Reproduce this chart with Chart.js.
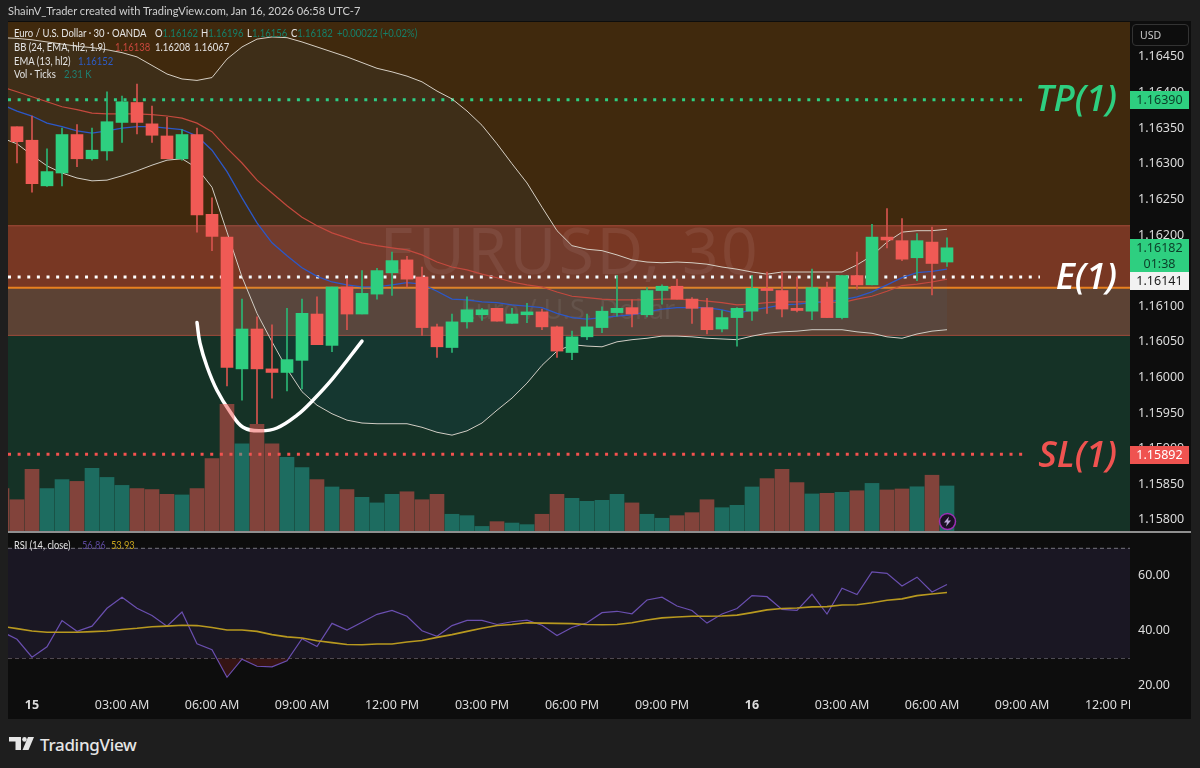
<!DOCTYPE html>
<html>
<head>
<meta charset="utf-8">
<title>EURUSD 30</title>
<script src="https://cdn.jsdelivr.net/npm/chart.js@4"></script>
<style>
    html, body { margin: 0; padding: 0; background: #1e1e1e; }
    body { position: relative; width: 1200px; height: 768px; overflow: hidden; font-family: "Noto Sans", sans-serif; color: #d8d8d8; }
    canvas { position: absolute; left: 0; }
    .abs { position: absolute; white-space: nowrap; }
    #frame { left: 8px; top: 21px; width: 1183px; height: 698px; background: #0d0d0d; }
    #sep { left: 8px; top: 531px; width: 1183px; height: 1.5px; background: #8f8f8f; }
    #header { left: 8px; top: 4px; font-family: Lato, sans-serif; font-size: 11.1px; color: #cfcfcf; }
    .legend { font-family: Lato, sans-serif; font-size: 10.8px; color: #e4e4e4; line-height: 14px; transform: scaleX(0.88); transform-origin: left center; }
    .teal { color: #15806a; }
    .tag { left: 1130px; width: 59px; text-align: center; font-size: 12.5px; }
    .big { font-family: "Open Sans", sans-serif; font-style: italic; font-weight: 600; font-size: 36px; line-height: 40px; right: 83px; }
    #usd { left: 1132px; top: 24px; width: 48px; height: 20px; padding-left: 7px; border: 1px solid #333; border-radius: 4px; font-size: 10.5px; line-height: 20px; color: #c8c8c8; }
    #clip { left: 1130px; top: 695px; width: 61px; height: 24px; background: #0d0d0d; }
    #brand { left: 40px; top: 733px; font-size: 17px; font-weight: 500; color: #e6e6e6; letter-spacing: -0.3px; }
</style>
</head>
<body>
<div class="abs" id="frame"></div>
<canvas id="priceChart" width="1200" height="560" style="top:0"></canvas>
<canvas id="rsiChart" width="1200" height="210" style="top:513px"></canvas>
<div class="abs" id="sep"></div>
<div class="abs" id="clip"></div>

<div class="abs" id="header">ShainV_Trader created with TradingView.com, Jan 16, 2026 06:58 UTC-7</div>

<div class="abs legend" style="left:14px;top:26px">Euro / U.S. Dollar · 30 · OANDA</div>
<div class="abs legend" style="left:155px;top:26px">O<span class="teal">1.16162</span></div>
<div class="abs legend" style="left:201px;top:26px">H<span class="teal">1.16196</span></div>
<div class="abs legend" style="left:247px;top:26px">L<span class="teal">1.16156</span></div>
<div class="abs legend" style="left:291px;top:26px">C<span class="teal">1.16182</span></div>
<div class="abs legend teal" style="left:337px;top:26px">+0.00022 (+0.02%)</div>
<div class="abs legend" style="left:14px;top:40px">BB (24, EMA, hl2, 1.9)</div>
<div class="abs legend" style="left:115px;top:40px;color:#c8473d">1.16138</div>
<div class="abs legend" style="left:155px;top:40px">1.16208</div>
<div class="abs legend" style="left:194px;top:40px">1.16067</div>
<div class="abs legend" style="left:14px;top:53.5px">EMA (13, hl2)</div>
<div class="abs legend" style="left:78px;top:53.5px;color:#2c5cc8">1.16152</div>
<div class="abs legend" style="left:14px;top:67px">Vol · Ticks</div>
<div class="abs legend" style="left:64px;top:67px;color:#1f7f72">2.31 K</div>
<div class="abs legend" style="left:14px;top:538px;font-size:10.5px">RSI (14, close)</div>
<div class="abs legend" style="left:82px;top:538px;font-size:10.5px;color:#5a479a">56.86</div>
<div class="abs legend" style="left:111px;top:538px;font-size:10.5px;color:#c4a21e">53.93</div>

<div class="abs" id="usd">USD</div>
<div class="abs tag" style="top:91px;height:18px;line-height:18px;background:#2ecf80;color:#0c3d28">1.16390</div>
<div class="abs tag" style="top:239px;height:33px;background:#2ecf80;color:#0c3d28;line-height:16px;padding-top:1px;height:32px">1.16182<br>01:38</div>
<div class="abs tag" style="top:272px;height:18px;line-height:18px;background:#f2f2f2;color:#1a1a1a">1.16141</div>
<div class="abs tag" style="top:446px;height:18px;line-height:18px;background:#ef5350;color:#ffffff">1.15892</div>

<div class="abs big" style="top:78px;color:#2ecf80">TP(1)</div>
<div class="abs big" style="top:256px;color:#ffffff">E(1)</div>
<div class="abs big" style="top:434px;color:#ef5350">SL(1)</div>

<svg class="abs" style="left:938px;top:512px" width="19" height="19" viewBox="0 0 19 19">
    <circle cx="9.5" cy="9.5" r="8" fill="#1a1024" stroke="#9c2fb5" stroke-width="1.5"/>
    <polygon points="11,4.5 6,10.5 9,10.5 8,14.5 13,8.5 10,8.5" fill="#b9a6d6"/>
</svg>

<svg class="abs" style="left:9px;top:737px" width="26" height="14" viewBox="0 0 26 14">
    <polygon points="0,0 12,0 12,13 6.5,13 6.5,4.5 0,4.5" fill="#e6e6e6"/>
    <circle cx="15.5" cy="2.4" r="2.3" fill="#e6e6e6"/>
    <polygon points="19,0 25,0 19.5,13 13.5,13" fill="#e6e6e6"/>
</svg>
<div class="abs" id="brand">TradingView</div>

<script>
// ============ DATA ============

const timeLabels = ["15", "03:00 AM", "06:00 AM", "09:00 AM", "12:00 PM", "03:00 PM", "06:00 PM", "09:00 PM",
    "16", "03:00 AM", "06:00 AM", "09:00 AM", "12:00 PM"];
const BARS_PER_LABEL = 6;
const BARS_PER_DAY = 48;
const CANDLE_START = -1; // bar number of first candle, bar 0 is Jan 15 00:00
const LINE_START = -2;   // indicators start one bar further left

const opens = [1.16352, 1.16333, 1.16269, 1.16287, 1.16341, 1.16307, 1.16318, 1.16358, 1.16386, 1.16356, 1.16339, 1.16307, 1.16341,
    1.16229, 1.16197, 1.16012, 1.16068, 1.16012, 1.16007, 1.16024, 1.16089, 1.16045, 1.16127, 1.16089, 1.16117, 1.16147, 1.16165,
    1.16141, 1.16071, 1.16042, 1.16078, 1.16088, 1.16097, 1.16076, 1.16088, 1.16092, 1.16071, 1.16035, 1.16057, 1.16070, 1.16091,
    1.16098, 1.16088, 1.16122, 1.16128, 1.16110, 1.16098, 1.16068, 1.16084, 1.16093, 1.16125, 1.16122, 1.16097, 1.16093, 1.16126,
    1.16084, 1.16143, 1.16130, 1.16197, 1.16192, 1.16168, 1.16190, 1.16162];
const highs = [1.16352, 1.16367, 1.16321, 1.16350, 1.16355, 1.16350, 1.16401, 1.16395, 1.16412, 1.16381, 1.16365, 1.16348, 1.16350,
    1.16252, 1.16197, 1.16110, 1.16085, 1.16074, 1.16097, 1.16110, 1.16113, 1.16127, 1.16138, 1.16150, 1.16153, 1.16176, 1.16170,
    1.16155, 1.16075, 1.16089, 1.16113, 1.16097, 1.16097, 1.16097, 1.16104, 1.16096, 1.16072, 1.16065, 1.16089, 1.16099, 1.16143,
    1.16109, 1.16126, 1.16130, 1.16138, 1.16112, 1.16111, 1.16094, 1.16098, 1.16143, 1.16148, 1.16148, 1.16141, 1.16152, 1.16134,
    1.16143, 1.16176, 1.16215, 1.16237, 1.16223, 1.16202, 1.16211, 1.16196];
const lows = [1.16301, 1.16260, 1.16268, 1.16269, 1.16296, 1.16305, 1.16305, 1.16330, 1.16342, 1.16330, 1.16307, 1.16305, 1.16204,
    1.16178, 1.15988, 1.15968, 1.15935, 1.15971, 1.15981, 1.15984, 1.16046, 1.16036, 1.16067, 1.16089, 1.16110, 1.16115, 1.16127,
    1.16059, 1.16028, 1.16035, 1.16069, 1.16080, 1.16079, 1.16076, 1.16077, 1.16067, 1.16028, 1.16025, 1.16053, 1.16063, 1.16086,
    1.16071, 1.16085, 1.16103, 1.16110, 1.16076, 1.16061, 1.16064, 1.16044, 1.16080, 1.16090, 1.16085, 1.16092, 1.16081, 1.16084,
    1.16082, 1.16124, 1.16130, 1.16182, 1.16164, 1.16136, 1.16116, 1.16156];
const closes = [1.16331, 1.16272, 1.16289, 1.16341, 1.16307, 1.16319, 1.16359, 1.16387, 1.16358, 1.16340, 1.16307, 1.16341, 1.16228,
    1.16198, 1.16014, 1.16068, 1.16012, 1.16007, 1.16025, 1.16090, 1.16046, 1.16127, 1.16089, 1.16118, 1.16150, 1.16164, 1.16138,
    1.16070, 1.16043, 1.16078, 1.16095, 1.16095, 1.16079, 1.16089, 1.16092, 1.16071, 1.16037, 1.16057, 1.16071, 1.16093, 1.16097,
    1.16089, 1.16122, 1.16128, 1.16110, 1.16097, 1.16067, 1.16084, 1.16097, 1.16125, 1.16122, 1.16096, 1.16094, 1.16126, 1.16084,
    1.16143, 1.16130, 1.16197, 1.16193, 1.16166, 1.16192, 1.16160, 1.16182];

// volume in thousands of ticks, from bar -2
const volumes = [2.18, 1.62, 3.15, 2.18, 2.63, 2.54, 3.20, 2.74, 2.34, 2.18, 2.13, 1.89, 1.86, 2.18, 3.68, 6.41, 4.43, 5.40, 4.43,
    3.75, 3.23, 2.63, 2.26, 2.13, 1.74, 1.46, 1.89, 2.02, 1.62, 1.89, 0.89, 0.82, 0.28, 0.52, 0.45, 0.37, 0.89, 1.89, 1.69, 1.54,
    1.59, 1.89, 1.46, 0.89, 0.69, 0.82, 0.97, 1.62, 1.22, 1.34, 2.26, 2.68, 3.15, 2.48, 1.91, 1.94, 1.99, 2.07, 2.44, 2.11, 2.16,
    2.27, 2.85, 2.31];

const bbUpper = [1.16477, 1.16476, 1.16474, 1.16471, 1.16468, 1.16465, 1.16463, 1.16460, 1.16456, 1.16450, 1.16438, 1.16426, 1.16419,
    1.16417, 1.16421, 1.16447, 1.16464, 1.16475, 1.16478, 1.16477, 1.16471, 1.16464, 1.16457, 1.16450, 1.16442, 1.16434, 1.16429,
    1.16423, 1.16415, 1.16402, 1.16391, 1.16374, 1.16354, 1.16328, 1.16300, 1.16273, 1.16239, 1.16206, 1.16185, 1.16180, 1.16178,
    1.16172, 1.16165, 1.16162, 1.16161, 1.16162, 1.16161, 1.16159, 1.16155, 1.16152, 1.16148, 1.16145, 1.16148, 1.16148, 1.16148,
    1.16148, 1.16148, 1.16158, 1.16171, 1.16190, 1.16204, 1.16206, 1.16206, 1.16208];
const bbLower = [1.16336, 1.16328, 1.16312, 1.16297, 1.16287, 1.16280, 1.16276, 1.16277, 1.16283, 1.16290, 1.16298, 1.16305, 1.16307,
    1.16294, 1.16267, 1.16204, 1.16141, 1.16090, 1.16050, 1.16012, 1.15980, 1.15961, 1.15949, 1.15940, 1.15936, 1.15935, 1.15935,
    1.15935, 1.15930, 1.15923, 1.15919, 1.15925, 1.15936, 1.15954, 1.15971, 1.15992, 1.16017, 1.16037, 1.16046, 1.16044, 1.16043,
    1.16050, 1.16053, 1.16055, 1.16058, 1.16058, 1.16057, 1.16055, 1.16054, 1.16053, 1.16058, 1.16062, 1.16064, 1.16065, 1.16067,
    1.16067, 1.16067, 1.16064, 1.16062, 1.16057, 1.16055, 1.16061, 1.16065, 1.16067];
const bbBasis = [1.16408, 1.16401, 1.16394, 1.16387, 1.16380, 1.16376, 1.16371, 1.16370, 1.16370, 1.16370, 1.16369, 1.16367, 1.16364,
    1.16357, 1.16345, 1.16322, 1.16301, 1.16277, 1.16259, 1.16241, 1.16225, 1.16213, 1.16203, 1.16196, 1.16189, 1.16185, 1.16182,
    1.16179, 1.16172, 1.16162, 1.16155, 1.16151, 1.16145, 1.16140, 1.16134, 1.16130, 1.16127, 1.16120, 1.16114, 1.16112, 1.16110,
    1.16109, 1.16109, 1.16109, 1.16110, 1.16110, 1.16109, 1.16107, 1.16105, 1.16102, 1.16103, 1.16105, 1.16106, 1.16106, 1.16106,
    1.16106, 1.16105, 1.16110, 1.16114, 1.16121, 1.16129, 1.16131, 1.16134, 1.16138];
const emaLine = [1.16383, 1.16374, 1.16367, 1.16357, 1.16352, 1.16346, 1.16343, 1.16346, 1.16350, 1.16352, 1.16352, 1.16350, 1.16348,
    1.16339, 1.16319, 1.16289, 1.16252, 1.16217, 1.16189, 1.16171, 1.16154, 1.16142, 1.16134, 1.16130, 1.16127, 1.16127, 1.16130,
    1.16133, 1.16131, 1.16121, 1.16110, 1.16109, 1.16106, 1.16105, 1.16102, 1.16100, 1.16098, 1.16090, 1.16084, 1.16082, 1.16084,
    1.16086, 1.16088, 1.16092, 1.16096, 1.16098, 1.16098, 1.16098, 1.16095, 1.16090, 1.16095, 1.16098, 1.16102, 1.16103, 1.16105,
    1.16106, 1.16109, 1.16113, 1.16120, 1.16130, 1.16140, 1.16147, 1.16149, 1.16152];

const rsiValues = [39.7, 36.9, 30.4, 34.2, 43.7, 39.8, 41.7, 48.2, 52.2, 48.2, 45.6, 41.7, 46.8, 35.3, 33.1, 23.1, 29.7, 27.1, 26.9,
    29.1, 37.1, 34.3, 42.7, 40.3, 43.1, 46.0, 47.4, 45.3, 40.0, 38.0, 41.9, 43.8, 43.8, 42.3, 43.3, 43.9, 42.0, 38.3, 41.2, 42.9,
    46.6, 47.1, 46.2, 51.2, 52.2, 49.0, 47.4, 42.8, 46.1, 48.1, 52.8, 52.4, 47.8, 47.4, 53.3, 46.1, 55.5, 53.2, 61.4, 60.9, 56.3,
    59.5, 54.1, 56.86];
const rsiMa = [41.6, 40.8, 39.9, 39.5, 39.5, 39.5, 39.7, 39.9, 40.5, 40.9, 41.5, 41.7, 42.0, 41.9, 41.2, 40.3, 40.3, 39.8, 38.6, 37.8,
    37.4, 36.4, 35.7, 35.0, 34.9, 35.2, 35.2, 35.9, 36.5, 37.6, 38.6, 39.8, 40.9, 41.9, 42.3, 42.9, 42.8, 42.7, 42.6, 42.3, 42.2,
    42.3, 42.9, 43.9, 44.7, 45.0, 45.3, 45.3, 45.4, 45.7, 46.6, 47.6, 48.1, 48.3, 48.7, 48.8, 49.4, 49.5, 50.2, 51.1, 51.6, 52.8,
    53.4, 53.93];
const rsiLevels = [70, 50, 30];

// levels drawn on the chart: price and the bar where the dots stop
const tpPrice = 1.1639, tpEndBar = 66;
const entryPrice = 1.16141, entryEndBar = 67.2;
const slPrice = 1.15892, slEndBar = 66.4;
const zonePrices = [1.16499, 1.16213, 1.16126, 1.16059, 1.15783];
const zoneColors = ["#40290d", "#783723", "#5c4234", "#153226"];

// hand drawn white curve
const curveBars = [11, 11.2, 11.67, 12.33, 13.2, 14.07, 15.2, 16.33, 17.67, 18.73, 20.07, 22];
const curvePrices = [1.16077, 1.16048, 1.16015, 1.15982, 1.15952, 1.1593, 1.15925, 1.15929, 1.15947, 1.15968, 1.15999, 1.16051];

// ============ HELPERS ============

const X_MIN = -1.6;
const X_MAX = 73.2;
const GREEN = "#2ecf80";
const RED = "#f05a55";
const FONT = "'Noto Sans', sans-serif";

const isUp = i => closes[i] >= opens[i];
const candleBars = opens.map((_, i) => i + CANDLE_START);

function linePoints(values) {
    return values.map((v, i) => ({ x: i + LINE_START, y: v }));
}

function levelLine(price, endBar, color) {
    return {
        type: "line",
        data: [{ x: X_MIN, y: price }, { x: endBar, y: price }],
        borderColor: color,
        borderWidth: 3,
        borderDash: [3, 6.63],
        pointRadius: 0,
        order: 9,
    };
}

function thinLine(values, color, width, order) {
    return {
        type: "line",
        data: linePoints(values),
        borderColor: color,
        borderWidth: width,
        pointRadius: 0,
        tension: 0,
        order,
    };
}

// Zones and watermark sit under every dataset
const zonePlugin = {
    id: "zones",
    beforeDatasetsDraw(chart) {
        const { ctx, chartArea: a, scales: { y } } = chart;
        ctx.save();
        zoneColors.forEach((c, i) => {
            const top = y.getPixelForValue(zonePrices[i]);
            const bottom = y.getPixelForValue(zonePrices[i + 1]);
            ctx.fillStyle = c;
            ctx.fillRect(a.left, top, a.right - a.left, bottom - top);
        });
        ctx.fillStyle = "rgba(190,85,65,0.8)";
        ctx.fillRect(a.left, y.getPixelForValue(zonePrices[1]) - 0.5, a.right - a.left, 1);
        ctx.fillRect(a.left, y.getPixelForValue(zonePrices[3]) - 0.5, a.right - a.left, 1);

        ctx.fillStyle = "rgba(255,255,255,0.075)";
        ctx.textAlign = "center";
        ctx.font = "64px " + FONT;
        ctx.letterSpacing = "2.5px";
        ctx.fillText("EURUSD, 30", 570, 274);
        ctx.letterSpacing = "0px";
        ctx.font = "27px " + FONT;
        ctx.fillText("Euro / U.S. Dollar", 568, 319);
        ctx.restore();
    },
};

// ============ PRICE CHART ============

new Chart(document.getElementById("priceChart"), {
    type: "line",
    plugins: [zonePlugin],
    data: {
        datasets: [
            {
                type: "bar",
                yAxisID: "yVol",
                data: volumes.map((v, i) => ({ x: i + LINE_START, y: v })),
                backgroundColor: volumes.map((_, i) => isUp(i + LINE_START - CANDLE_START) ? "rgba(38,166,154,0.5)" : "rgba(239,83,80,0.5)"),
                barThickness: 14,
                grouped: false,
                order: 0,
            },
            {
                type: "line",
                data: curveBars.map((b, i) => ({ x: b, y: curvePrices[i] })),
                borderColor: "#ffffff",
                borderWidth: 3.5,
                borderCapStyle: "round",
                pointRadius: 0,
                tension: 0.4,
                order: 1,
            },
            {
                type: "bar",
                data: candleBars.map((b, i) => ({ x: b, y: [opens[i], closes[i]] })),
                backgroundColor: opens.map((_, i) => isUp(i) ? GREEN : RED),
                barThickness: 12,
                grouped: false,
                order: 2,
            },
            {
                type: "bar",
                data: candleBars.map((b, i) => ({ x: b, y: [lows[i], highs[i]] })),
                backgroundColor: opens.map((_, i) => isUp(i) ? "#2bb574" : "#d5534e"),
                barThickness: 1,
                grouped: false,
                order: 3,
            },
            thinLine(emaLine, "#2c58c8", 1.3, 4),
            thinLine(bbBasis, "#c4493e", 1.2, 5),
            // index 6: upper band, filled down to the lower band at index 7
            Object.assign(thinLine(bbUpper, "#d6cfc4", 1, 6), {
                fill: "+1",
                backgroundColor: "rgba(33,150,243,0.05)",
            }),
            thinLine(bbLower, "#d6cfc4", 1, 7),
            {
                type: "line",
                data: [{ x: X_MIN, y: zonePrices[2] }, { x: X_MAX, y: zonePrices[2] }],
                borderColor: "#e8811f",
                borderWidth: 2,
                pointRadius: 0,
                order: 8,
            },
            levelLine(tpPrice, tpEndBar, GREEN),
            levelLine(entryPrice, entryEndBar, "#ffffff"),
            levelLine(slPrice, slEndBar, "#f4524f"),
        ],
    },
    options: {
        responsive: false,
        animation: false,
        parsing: { xAxisKey: "x", yAxisKey: "y" },
        // canvas runs 28px past the pane so axis label overhang leaves the plot height alone
        layout: { padding: { left: 8, top: 22, right: 10, bottom: 28 } },
        plugins: { legend: { display: false }, tooltip: { enabled: false } },
        scales: {
            x: { type: "linear", min: X_MIN, max: X_MAX, offset: false, display: false, grid: { display: false } },
            y: {
                position: "right",
                min: zonePrices[4],
                max: zonePrices[0],
                afterFit(scale) { scale.width = 60; },
                grid: { display: false, drawTicks: false },
                border: { display: false },
                ticks: {
                    stepSize: 0.0005,
                    includeBounds: false,
                    padding: 8,
                    color: "#dcdcdc",
                    font: { family: FONT, size: 12.5 },
                    callback: v => v.toFixed(5),
                },
            },
            yVol: { display: false, min: 0, max: 25.6 },
        },
    },
});

// ============ RSI CHART ============

new Chart(document.getElementById("rsiChart"), {
    type: "line",
    data: {
        datasets: [
            Object.assign(thinLine(rsiValues, "#6a4fb0", 1.2, 1), {
                fill: { target: { value: 30 }, above: "rgba(0,0,0,0)", below: "rgba(130,35,35,0.35)" },
            }),
            thinLine(rsiMa, "#b8991f", 1.6, 0),
            ...rsiLevels.map((level, i) => ({
                type: "line",
                data: [{ x: X_MIN, y: level }, { x: X_MAX, y: level }],
                borderColor: "#77767f",
                borderWidth: 1,
                borderDash: [4, 3],
                pointRadius: 0,
                fill: i === 0 ? { target: { value: rsiLevels[2] } } : false,
                backgroundColor: "#1a1723",
                order: 3,
            })),
        ],
    },
    options: {
        responsive: false,
        animation: false,
        layout: { padding: { left: 8, top: 22, right: 10, bottom: 0 } },
        plugins: { legend: { display: false }, tooltip: { enabled: false } },
        scales: {
            x: {
                type: "linear",
                min: X_MIN,
                max: X_MAX,
                afterFit(scale) { scale.height = 30; },
                grid: { display: false, drawTicks: false },
                border: { display: false },
                ticks: {
                    stepSize: BARS_PER_LABEL,
                    includeBounds: false,
                    autoSkip: false,
                    maxRotation: 0,
                    minRotation: 0,
                    padding: 5,
                    color: "#dcdcdc",
                    font: ctx => ({
                        family: FONT,
                        size: 12.5,
                        weight: ctx.tick && ctx.tick.value % BARS_PER_DAY === 0 ? "bold" : "normal",
                    }),
                    callback: v => timeLabels[v / BARS_PER_LABEL],
                },
            },
            y: {
                position: "right",
                min: 17.38,
                max: 74.84,
                afterFit(scale) { scale.width = 60; },
                grid: { display: false, drawTicks: false },
                border: { display: false },
                ticks: {
                    stepSize: 20,
                    includeBounds: false,
                    padding: 8,
                    color: "#dcdcdc",
                    font: { family: FONT, size: 12.5 },
                    callback: v => v.toFixed(2),
                },
            },
        },
    },
});
</script>
</body>
</html>
